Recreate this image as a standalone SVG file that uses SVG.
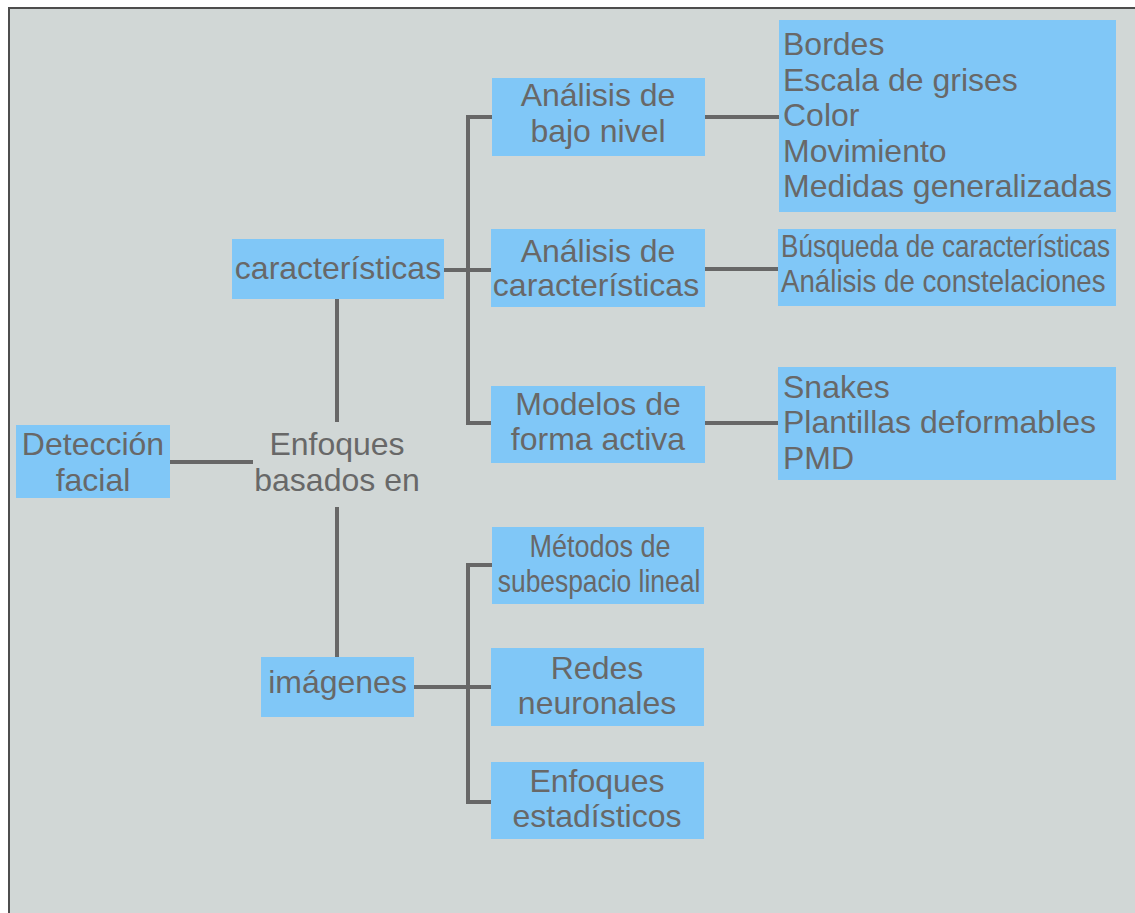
<svg xmlns="http://www.w3.org/2000/svg" width="1135" height="913" viewBox="0 0 1135 913">
  <style>
    .box { fill: #80c7f7; }
    .lbl { font-family: "Liberation Sans", Arial, sans-serif; font-size: 32px; fill: #686868; }
    .mid { text-anchor: middle; }
    .wire { fill: none; stroke: #676767; stroke-width: 4; stroke-linejoin: miter; }
  </style>

  <!-- page and frame -->
  <rect x="0" y="0" width="1135" height="913" fill="#ffffff"/>
  <rect x="9" y="8" width="1140" height="920" fill="#d1d7d6" stroke="#4d4d4d" stroke-width="2"/>

  <!-- connectors -->
  <g id="connectors">
    <path class="wire" d="M170 462 H253"/>
    <path class="wire" d="M337 299 V422"/>
    <path class="wire" d="M337 507 V657"/>
    <path class="wire" d="M444 270 H491"/>
    <path class="wire" d="M492 117 H468 V423 H491"/>
    <path class="wire" d="M705 117 H779"/>
    <path class="wire" d="M705 269 H778"/>
    <path class="wire" d="M705 423 H778"/>
    <path class="wire" d="M414 687 H491"/>
    <path class="wire" d="M492 565 H468 V802 H491"/>
  </g>

  <g id="deteccion-facial">
    <rect class="box" x="16" y="425" width="154" height="73"/>
    <text class="lbl mid" x="93" y="455">Detección</text>
    <text class="lbl mid" x="93" y="491">facial</text>
  </g>

  <g id="enfoques-basados">
    <text class="lbl mid" x="337" y="455">Enfoques</text>
    <text class="lbl mid" x="337" y="491">basados en</text>
  </g>

  <g id="caracteristicas">
    <rect class="box" x="232" y="239" width="212" height="60"/>
    <text class="lbl mid" x="338" y="279">características</text>
  </g>

  <g id="imagenes">
    <rect class="box" x="261" y="657" width="153" height="60"/>
    <text class="lbl mid" x="337.5" y="693">imágenes</text>
  </g>

  <g id="bajo-nivel">
    <rect class="box" x="492" y="78" width="213" height="78"/>
    <text class="lbl mid" x="598" y="106">Análisis de</text>
    <text class="lbl mid" x="598" y="142">bajo nivel</text>
  </g>

  <g id="analisis-caracteristicas">
    <rect class="box" x="491" y="229" width="214" height="78"/>
    <text class="lbl mid" x="598" y="262">Análisis de</text>
    <text class="lbl mid" x="596" y="296">características</text>
  </g>

  <g id="modelos-forma">
    <rect class="box" x="491" y="386" width="214" height="77"/>
    <text class="lbl mid" x="598" y="415">Modelos de</text>
    <text class="lbl mid" x="598" y="450">forma activa</text>
  </g>

  <!-- condensed labels: narrowed horizontally so they fit their boxes -->
  <g id="subespacio">
    <rect class="box" x="492" y="527" width="212" height="77"/>
    <text class="lbl mid" transform="translate(600 557) scale(0.845 1)">Métodos de</text>
    <text class="lbl mid" transform="translate(599 592) scale(0.825 1)">subespacio lineal</text>
  </g>

  <g id="redes">
    <rect class="box" x="491" y="648" width="213" height="78"/>
    <text class="lbl mid" x="597" y="679">Redes</text>
    <text class="lbl mid" x="597" y="714">neuronales</text>
  </g>

  <g id="estadisticos">
    <rect class="box" x="491" y="762" width="213" height="77"/>
    <text class="lbl mid" x="597" y="792">Enfoques</text>
    <text class="lbl mid" x="597" y="827">estadísticos</text>
  </g>

  <g id="bajo-nivel-lista">
    <rect class="box" x="779" y="20" width="337" height="192"/>
    <text class="lbl" x="783" y="55">Bordes</text>
    <text class="lbl" x="783" y="90.5">Escala de grises</text>
    <text class="lbl" x="783" y="126">Color</text>
    <text class="lbl" x="783" y="161.5">Movimiento</text>
    <text class="lbl" x="783" y="197">Medidas generalizadas</text>
  </g>

  <g id="caracteristicas-lista">
    <rect class="box" x="778" y="229" width="338" height="77"/>
    <text class="lbl" transform="translate(781 257) scale(0.815 1)">Búsqueda de características</text>
    <text class="lbl" transform="translate(781 292) scale(0.865 1)">Análisis de constelaciones</text>
  </g>

  <g id="forma-lista">
    <rect class="box" x="778" y="367" width="338" height="113"/>
    <text class="lbl" x="783" y="398">Snakes</text>
    <text class="lbl" x="783" y="433">Plantillas deformables</text>
    <text class="lbl" x="783" y="469">PMD</text>
  </g>
</svg>
